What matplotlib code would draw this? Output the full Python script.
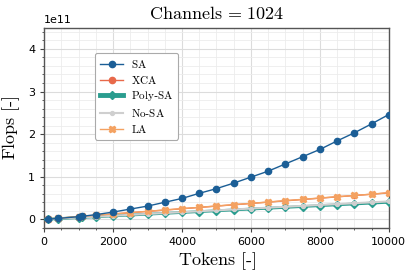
"""
Flops vs. number of tokens for the attention variants (channels = 1024).
"""

import numpy as np
import matplotlib
matplotlib.use("Agg")
import matplotlib.pyplot as plt
from matplotlib.ticker import AutoMinorLocator

# Data (flops in units of 1e11)
tokens = [100, 400, 1000, 1100, 1500, 2000, 2500, 3000, 3500, 4000, 4500,
          5000, 5500, 6000, 6500, 7000, 7500, 8000, 8500, 9000, 9500, 10000]
sa = [0.004, 0.02, 0.062, 0.07, 0.11, 0.17, 0.24, 0.31, 0.40, 0.49, 0.61,
      0.72, 0.85, 0.99, 1.13, 1.30, 1.47, 1.64, 1.84, 2.03, 2.24, 2.46]
xca = [0.006, 0.025, 0.062, 0.068, 0.093, 0.124, 0.155, 0.186, 0.217, 0.248, 0.279,
       0.31, 0.341, 0.372, 0.403, 0.434, 0.465, 0.496, 0.527, 0.558, 0.589, 0.62]
poly_sa = [0.004, 0.016, 0.04, 0.044, 0.06, 0.08, 0.10, 0.12, 0.14, 0.16, 0.18,
           0.20, 0.22, 0.24, 0.26, 0.28, 0.30, 0.32, 0.34, 0.36, 0.38, 0.40]
no_sa = [0.004, 0.017, 0.042, 0.046, 0.063, 0.084, 0.105, 0.126, 0.147, 0.168, 0.189,
         0.21, 0.231, 0.252, 0.273, 0.294, 0.315, 0.336, 0.357, 0.378, 0.399, 0.42]
la = [0.006, 0.025, 0.063, 0.069, 0.094, 0.125, 0.156, 0.188, 0.219, 0.25, 0.281,
      0.313, 0.344, 0.375, 0.406, 0.438, 0.469, 0.50, 0.53, 0.56, 0.59, 0.625]

plt.rcParams["mathtext.fontset"] = "cm"
plt.rcParams["font.family"] = "DejaVu Sans"

fig = plt.figure(figsize=(4.05, 2.76), dpi=100)
ax = fig.add_axes([0.109, 0.173, 0.851, 0.727])

scale = 1e11
ax.plot(tokens, np.array(sa) * scale, color="#1b5e96", marker="o", ms=4.5,
        lw=1.0, label=r"$\mathrm{SA}$", zorder=5)
ax.plot(tokens, np.array(xca) * scale, color="#e8694a", marker="o", ms=3.0,
        lw=1.0, label=r"$\mathrm{XCA}$", zorder=3)
ax.plot(tokens, np.array(poly_sa) * scale, color="#2a9d8f", marker="D", ms=4.0,
        lw=2.0, label=r"$\mathrm{Poly}$-$\mathrm{SA}$", zorder=3)
ax.plot(tokens, np.array(no_sa) * scale, color="#cfcfcf", marker="o", ms=2.8,
        lw=1.5, label=r"$\mathrm{No}$-$\mathrm{SA}$", zorder=4)
ax.plot(tokens, np.array(la) * scale, color="#f4a261", marker="X", ms=5,
        lw=1.0, label=r"$\mathrm{LA}$", zorder=4)

ax.set_xlim(0, 10000)
ax.set_ylim(-0.21e11, 4.5e11)
ax.set_xticks([0, 2000, 4000, 6000, 8000, 10000])
ax.set_yticks([0, 1e11, 2e11, 3e11, 4e11])
ax.xaxis.set_minor_locator(AutoMinorLocator(4))
ax.yaxis.set_minor_locator(AutoMinorLocator(5))
ax.grid(which="major", color="#dcdcdc", lw=0.8)
ax.grid(which="minor", color="#ececec", lw=0.6)
ax.set_axisbelow(True)
ax.tick_params(labelsize=8, length=3, color="#444444")
ax.tick_params(which="minor", length=1.5, color="#444444")
ax.yaxis.get_offset_text().set_fontsize(8)
for s in ax.spines.values():
    s.set_color("#555555")
    s.set_linewidth(1.0)

ax.set_title(r"$\mathrm{Channels}\,=\,1024$", fontsize=13, pad=6)
ax.set_xlabel(r"$\mathrm{Tokens}\ [\text{-}]$", fontsize=13, labelpad=2)
ax.set_ylabel(r"$\mathrm{Flops}\ [\text{-}]$", fontsize=13, labelpad=4)

handles, labels = ax.get_legend_handles_labels()
leg = ax.legend(handles, labels, loc="upper left", bbox_to_anchor=(0.148, 0.874),
                borderaxespad=0.0, fontsize=8, framealpha=1.0, edgecolor="#aaaaaa",
                labelspacing=0.33, handlelength=2.1, handletextpad=0.7, borderpad=0.45)
leg.get_frame().set_linewidth(0.8)
# thicker Poly-SA line in legend
leg.get_lines()[2].set_linewidth(3.5)
leg.get_lines()[1].set_markersize(4.5)

fig.savefig("out.png", dpi=100)
